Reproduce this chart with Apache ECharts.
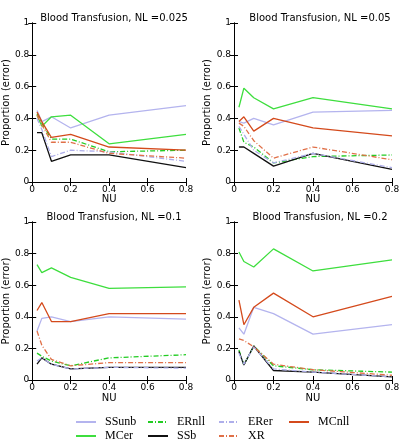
<!DOCTYPE html>
<html>
<head>
<meta charset="utf-8">
<script src="https://cdn.jsdelivr.net/npm/echarts@6/dist/echarts.min.js"></script>
<style>
  html, body { margin: 0; padding: 0; background: #fff; }
  #chart { width: 407px; height: 447px; }
</style>
</head>
<body>
<div id="chart"></div>
<script>
// x values (NU) shared by every panel
const nu = [0.025, 0.05, 0.1, 0.2, 0.4, 0.8];
const panelTitles = [
  'Blood Transfusion, NL =0.025',
  'Blood Transfusion, NL =0.05',
  'Blood Transfusion, NL =0.1',
  'Blood Transfusion, NL =0.2'
];

// one row per panel (NL = 0.025, 0.05, 0.1, 0.2)
const ssunb = [
  [0.45, 0.38, 0.41, 0.34, 0.42, 0.48],
  [0.38, 0.37, 0.40, 0.36, 0.44, 0.45],
  [0.31, 0.39, 0.40, 0.37, 0.40, 0.385],
  [0.33, 0.29, 0.46, 0.42, 0.29, 0.35]
];
const mcer = [
  [0.42, 0.35, 0.41, 0.42, 0.24, 0.30],
  [0.47, 0.59, 0.53, 0.46, 0.53, 0.46],
  [0.73, 0.68, 0.71, 0.65, 0.58, 0.59],
  [0.81, 0.75, 0.715, 0.83, 0.69, 0.76]
];
const ernll = [
  [0.43, 0.37, 0.27, 0.27, 0.19, 0.20],
  [0.34, 0.25, 0.22, 0.12, 0.16, 0.17],
  [0.17, 0.15, 0.12, 0.09, 0.14, 0.16],
  [0.19, 0.095, 0.215, 0.09, 0.065, 0.05]
];
const ssb = [
  [0.31, 0.31, 0.13, 0.17, 0.17, 0.09],
  [0.22, 0.22, 0.18, 0.10, 0.18, 0.08],
  [0.10, 0.14, 0.10, 0.07, 0.08, 0.08],
  [0.18, 0.095, 0.215, 0.06, 0.05, 0.02]
];
const erer = [
  [0.40, 0.33, 0.16, 0.20, 0.19, 0.13],
  [0.35, 0.30, 0.20, 0.12, 0.18, 0.09],
  [0.12, 0.14, 0.10, 0.07, 0.08, 0.075],
  [0.17, 0.10, 0.21, 0.07, 0.05, 0.02]
];
const xr = [
  [0.42, 0.36, 0.25, 0.25, 0.18, 0.15],
  [0.37, 0.35, 0.26, 0.15, 0.22, 0.14],
  [0.31, 0.22, 0.13, 0.09, 0.11, 0.11],
  [0.26, 0.25, 0.21, 0.10, 0.065, 0.03]
];
const mcnll = [
  [0.44, 0.38, 0.28, 0.30, 0.22, 0.20],
  [0.38, 0.41, 0.32, 0.40, 0.34, 0.29],
  [0.44, 0.49, 0.37, 0.37, 0.42, 0.42],
  [0.505, 0.35, 0.46, 0.55, 0.40, 0.53]
];

const dashDot = [5, 2, 1, 2];
const methods = [
  { name: 'SSunb', values: ssunb, color: '#b4b4ee', type: 'solid' },
  { name: 'MCer', values: mcer, color: '#3ede3e', type: 'solid' },
  { name: 'ERnll', values: ernll, color: '#22cc22', type: dashDot },
  { name: 'SSb', values: ssb, color: '#111111', type: 'solid' },
  { name: 'ERer', values: erer, color: '#aeaeea', type: dashDot },
  { name: 'XR', values: xr, color: '#e07048', type: dashDot },
  { name: 'MCnll', values: mcnll, color: '#d44a1c', type: 'solid' }
];

const grids = [
  { left: 28, top: 23, width: 158, height: 159 },
  { left: 234, top: 23, width: 158, height: 159 },
  { left: 28, top: 222, width: 158, height: 158 },
  { left: 234, top: 222, width: 158, height: 158 }
];

const font = 'DejaVu Sans';
const tickFmt = v => String(+v.toFixed(1));

const xAxes = [];
const yAxes = [];
const titles = [];
grids.forEach((g, i) => {
  xAxes.push({
    gridIndex: i, type: 'value', min: 0, max: 0.8, interval: 0.2,
    name: 'NU', nameLocation: 'middle', nameGap: i < 2 ? 12 : 13,
    nameTextStyle: { color: '#000', fontFamily: font, fontSize: 10 },
    axisLine: { lineStyle: { color: '#000', width: 1 } },
    axisTick: { inside: true, length: 4, lineStyle: { color: '#000' } },
    axisLabel: { color: '#000', fontFamily: font, fontSize: 9, margin: 3, formatter: tickFmt },
    splitLine: { show: false }
  });
  xAxes.push({
    gridIndex: i, type: 'value', position: 'top', min: 0, max: 0.8, interval: 0.2,
    axisLine: { lineStyle: { color: '#000', width: 1 } },
    axisTick: { inside: true, length: 4, lineStyle: { color: '#000' } },
    axisLabel: { show: false },
    splitLine: { show: false }
  });
  yAxes.push({
    gridIndex: i, type: 'value', min: 0, max: 1, interval: 0.2,
    name: 'Proportion (error)', nameLocation: 'middle', nameGap: 16,
    nameTextStyle: { color: '#000', fontFamily: font, fontSize: 10 },
    axisLine: { show: true, lineStyle: { color: '#000', width: 1 } },
    axisTick: { inside: true, length: 4, lineStyle: { color: '#000' } },
    axisLabel: { color: '#000', fontFamily: font, fontSize: 9, margin: 3, formatter: tickFmt },
    splitLine: { show: false }
  });
  yAxes.push({
    gridIndex: i, type: 'value', position: 'right', min: 0, max: 1, interval: 0.2,
    axisLine: { show: true, lineStyle: { color: '#000', width: 1 } },
    axisTick: { inside: true, length: 4, lineStyle: { color: '#000' } },
    axisLabel: { show: false },
    splitLine: { show: false }
  });
  titles.push({
    text: panelTitles[i],
    left: g.left + g.width / 2 + 2,
    top: g.top - 15,
    textAlign: 'center',
    textStyle: { color: '#000', fontFamily: font, fontSize: 10, fontWeight: 'normal' }
  });
});

const series = [];
methods.forEach(m => {
  m.values.forEach((vals, i) => {
    series.push({
      name: m.name,
      type: 'line',
      xAxisIndex: i * 2,
      yAxisIndex: i * 2,
      data: nu.map((x, j) => [x, vals[j]]),
      symbol: 'none',
      lineStyle: { color: m.color, width: 1.3, type: m.type },
      itemStyle: { color: m.color },
      animation: false
    });
  });
});

// legend laid out like matplotlib's ncol=4 (filled column by column)
const legendPos = [
  { left: 70, top: 411 }, { left: 70, top: 425 },
  { left: 142, top: 411 }, { left: 142, top: 425 },
  { left: 213, top: 411 }, { left: 213, top: 425 },
  { left: 283, top: 411 }
];
const legends = methods.map((m, i) => ({
  data: [m.name],
  left: legendPos[i].left,
  top: legendPos[i].top,
  itemWidth: 20,
  itemHeight: 10,
  selectedMode: false,
  itemStyle: { opacity: 0 },
  textStyle: { color: '#000', fontFamily: 'Liberation Serif', fontSize: 12, padding: [0, 0, 0, 4] }
}));

const chart = echarts.init(document.getElementById('chart'), null, { renderer: 'canvas' });
chart.setOption({
  backgroundColor: '#fff',
  animation: false,
  title: titles,
  legend: legends,
  grid: grids,
  xAxis: xAxes,
  yAxis: yAxes,
  series: series
});
</script>
</body>
</html>
